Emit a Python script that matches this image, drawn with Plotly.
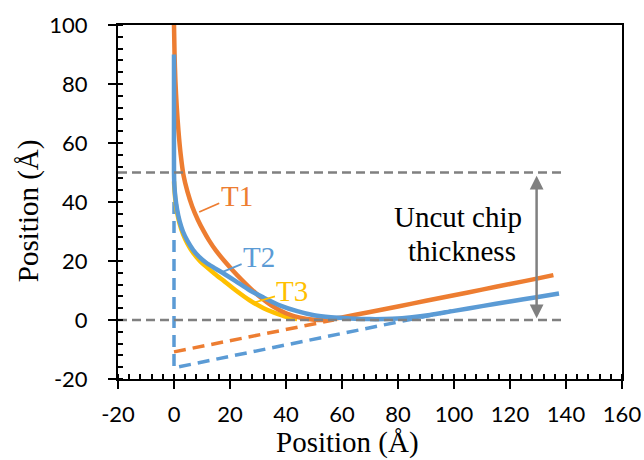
import plotly.graph_objects as go

# ---- data ----
t1_x = [0, 0.2, 0.5, 1.0, 1.6, 2.4, 3.4, 4.8, 6.5, 8.5, 10.5, 12.5, 15, 18, 21, 24, 27, 31, 35, 40, 45,
        50, 55, 60, 70, 80, 90, 100, 110, 120, 130, 135.5]
t1_y = [100, 90, 81, 72, 64, 56, 49, 43.5, 38.5, 34, 30.3, 27, 23.5, 20, 16.8, 13.8, 11, 7.6, 4.8, 2.3, 0.8,
        0.1, 0.1, 0.9, 2.7, 4.6, 6.5, 8.4, 10.3, 12.2, 14.1, 15.2]

t2_x = [0, 0, 0, 0.15, 0.5, 1.1, 2.0, 3.2, 4.8, 6.8, 9, 11.5, 14.5, 18, 22, 27, 32, 38, 44, 50, 56, 63,
        70, 78, 85, 91.4, 100, 110, 120, 130, 137.5]
t2_y = [90, 70, 50, 45.5, 41.5, 37.5, 33.5, 30, 26.8, 23.8, 21.4, 19.4, 17.6, 15.6, 13.2, 10.1, 7.6, 4.9,
        3.0, 1.6, 0.9, 0.5, 0.3, 0.4, 0.9, 1.7, 3.1, 4.7, 6.3, 7.8, 9.0]

t3_x = [0, 0.15, 0.5, 1.1, 2.0, 3.2, 4.8, 6.8, 9, 11.5, 14.5, 18, 22, 27, 32, 36, 40, 44]
t3_y = [47, 44.5, 40.5, 36.5, 32.7, 29.2, 25.9, 22.8, 20.3, 18.1, 15.7, 13.1, 10.1, 6.7, 4.0, 2.4, 1.1, 0.3]

t1_tan_x = [0, 57]
t1_tan_y = [-10.8, 0]

t2_tan_x = [0, 0, 100]
t2_tan_y = [40, -16.2, 3.2]

ref_x = [-20, 140]
chip_top = [50, 50]
chip_bottom = [0, 0]

x_ticks = [-20, 0, 20, 40, 60, 80, 100, 120, 140, 160]
x_tick_labels = ["-20", "0", "20", "40", "60", "80", "100", "120", "140", "160"]
y_ticks = [-20, 0, 20, 40, 60, 80, 100]
y_tick_labels = ["-20", "0", "20", "40", "60", "80", "100"]

ORANGE = "#ED7D31"
BLUE = "#5B9BD5"
YELLOW = "#FFC000"
GRAY = "#808080"
SERIF = "Liberation Serif, Times New Roman, serif"
SANS = "Lato, Open Sans, sans-serif"

fig = go.Figure()

fig.add_trace(go.Scatter(x=t1_tan_x, y=t1_tan_y, mode="lines",
                         line=dict(color=ORANGE, width=3.5, dash="12px,7px"), showlegend=False))
fig.add_trace(go.Scatter(x=t2_tan_x, y=t2_tan_y, mode="lines",
                         line=dict(color=BLUE, width=3.5, dash="12px,7px"), showlegend=False))
fig.add_trace(go.Scatter(x=t3_x, y=t3_y, mode="lines", name="T3",
                         line=dict(color=YELLOW, width=4.5, shape="spline", smoothing=0.8),
                         showlegend=False))
fig.add_trace(go.Scatter(x=t1_x, y=t1_y, mode="lines", name="T1",
                         line=dict(color=ORANGE, width=4.5, shape="spline", smoothing=0.8),
                         showlegend=False))
fig.add_trace(go.Scatter(x=t2_x, y=t2_y, mode="lines", name="T2",
                         line=dict(color=BLUE, width=4.5, shape="spline", smoothing=0.8),
                         showlegend=False))
fig.add_trace(go.Scatter(x=ref_x, y=chip_top, mode="lines",
                         line=dict(color=GRAY, width=2.5, dash="9px,5px"), showlegend=False))
fig.add_trace(go.Scatter(x=ref_x, y=chip_bottom, mode="lines",
                         line=dict(color=GRAY, width=2.5, dash="9px,5px"), showlegend=False))

axis_common = dict(
    showgrid=False, zeroline=False, automargin=False,
    showline=True, linecolor="black", linewidth=2, mirror=True,
    ticks="outside", ticklen=8, tickwidth=1.5, tickcolor="black",
    tickfont=dict(family=SANS, size=22, color="black"),
    minor=dict(dtick=4, ticks="inside", ticklen=5, tickwidth=1.5, tickcolor="black", showgrid=False),
)

fig.update_xaxes(range=[-20, 160], tickvals=x_ticks, ticktext=x_tick_labels,
                 ticklabelstandoff=7, **axis_common)
fig.update_yaxes(range=[-20, 100], tickvals=y_ticks, ticktext=y_tick_labels,
                 ticklabelstandoff=16, **axis_common)

annotations = [
    # axis titles
    dict(text="Position (Å)", xref="paper", yref="paper", x=0.456, y=-0.18,
         showarrow=False, font=dict(family=SERIF, size=29, color="black"),
         xanchor="center", yanchor="middle"),
    dict(text="Position (Å)", xref="paper", yref="paper", x=-0.1786, y=0.477,
         showarrow=False, textangle=-90, font=dict(family=SERIF, size=29, color="black"),
         xanchor="center", yanchor="middle"),
    # series labels with leader lines
    dict(text="T1", x=9, y=36.6, ax=22.4, ay=42.2, xref="x", yref="y", axref="x", ayref="y",
         showarrow=True, arrowhead=0, arrowwidth=1.8, arrowcolor=ORANGE,
         font=dict(family=SERIF, size=29, color=ORANGE)),
    dict(text="T2", x=17.6, y=16.4, ax=30.4, ay=21.4, xref="x", yref="y", axref="x", ayref="y",
         showarrow=True, arrowhead=0, arrowwidth=1.8, arrowcolor=BLUE,
         font=dict(family=SERIF, size=29, color=BLUE)),
    dict(text="T3", x=28.3, y=5.8, ax=42.3, ay=9.8, xref="x", yref="y", axref="x", ayref="y",
         showarrow=True, arrowhead=0, arrowwidth=1.8, arrowcolor=YELLOW,
         font=dict(family=SERIF, size=29, color=YELLOW)),
    # uncut chip thickness
    dict(text="Uncut chip", x=101.6, y=34.9, xref="x", yref="y", showarrow=False,
         font=dict(family=SERIF, size=29, color="black")),
    dict(text="thickness", x=103, y=23.5, xref="x", yref="y", showarrow=False,
         font=dict(family=SERIF, size=29, color="black")),
    dict(text="", x=129.5, y=0.6, ax=129.5, ay=49.4, xref="x", yref="y", axref="x", ayref="y",
         showarrow=True, arrowhead=2, arrowside="end+start", arrowsize=1.1, arrowwidth=2.5,
         arrowcolor=GRAY),
]

fig.update_layout(
    width=644, height=460,
    margin=dict(l=118, r=22, t=25, b=81),
    paper_bgcolor="white", plot_bgcolor="white",
    showlegend=False,
    annotations=annotations,
)

fig.write_html(
    "out.html",
    config={"displayModeBar": False},
    post_script="document.body.style.margin='0';document.body.style.padding='0';",
)
